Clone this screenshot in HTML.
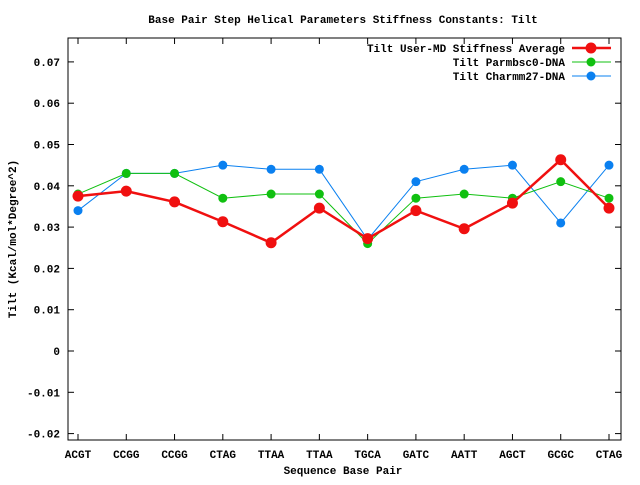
<!DOCTYPE html>
<html><head><meta charset="utf-8"><style>
body{margin:0;background:#fff}
svg text{font-family:"Liberation Mono","DejaVu Sans Mono",monospace;font-size:11px;font-weight:bold;fill:#000}
</style></head><body>
<svg id="chart" width="640" height="480" xmlns="http://www.w3.org/2000/svg">
<text x="343" y="23" text-anchor="middle">Base Pair Step Helical Parameters Stiffness Constants: Tilt</text>
<rect x="68" y="38" width="553" height="402" fill="none" stroke="#000" stroke-width="1"/>
<g id="axes"></g>
<g id="series"></g>
<text x="343" y="474" text-anchor="middle">Sequence Base Pair</text>
<text transform="translate(16,239) rotate(-90)" text-anchor="middle">Tilt (Kcal/mol*Degree^2)</text>
<g id="legend"></g>
</svg>
<script>
const categories=["ACGT","CCGG","CCGG","CTAG","TTAA","TTAA","TGCA","GATC","AATT","AGCT","GCGC","CTAG"];
const userMD=[0.0375,0.0387,0.0361,0.0313,0.0262,0.0346,0.0272,0.0340,0.0296,0.0358,0.0463,0.0346];
const parmbsc0=[0.038,0.043,0.043,0.037,0.038,0.038,0.026,0.037,0.038,0.037,0.041,0.037];
const charmm27=[0.034,0.043,0.043,0.045,0.044,0.044,0.027,0.041,0.044,0.045,0.031,0.045];
const yTicks=[-0.02,-0.01,0,0.01,0.02,0.03,0.04,0.05,0.06,0.07];
const yTickLabels=["-0.02","-0.01","0","0.01","0.02","0.03","0.04","0.05","0.06","0.07"];
const NS="http://www.w3.org/2000/svg";
function xScale(i){return 78+i*(609-78)/(categories.length-1);}
function yScale(v){return 351-v*4130;}
function mk(t,a,p){const e=document.createElementNS(NS,t);for(const k in a)e.setAttribute(k,a[k]);p.appendChild(e);return e;}
const ax=document.getElementById('axes');
yTicks.forEach((v,i)=>{const y=yScale(v);
 const l=mk('line',{x1:68,x2:74,y1:y,y2:y,stroke:'#000'},ax);
 
 
 const l2=mk('line',{x1:615,x2:621,y1:y,y2:y,stroke:'#000'},ax);
 
 
 const t=mk('text',{x:60,y:y+4,'text-anchor':'end'},ax);t.textContent=yTickLabels[i];
 
 
});
categories.forEach((c,i)=>{const x=xScale(i);
 const l=mk('line',{x1:x,x2:x,y1:440,y2:434,stroke:'#000'},ax);
 
 
 const l2=mk('line',{x1:x,x2:x,y1:38,y2:44,stroke:'#000'},ax);
 
 
 const t=mk('text',{x:x,y:458,'text-anchor':'middle'},ax);t.textContent=c;
 
 
});
const series=[
 {name:"Tilt Charmm27-DNA",data:charmm27,color:"#0a80f0",w:1,r:4.5,key:"charmm27"},
 {name:"Tilt Parmbsc0-DNA",data:parmbsc0,color:"#10c010",w:1,r:4.5,key:"parmbsc0"},
 {name:"Tilt User-MD Stiffness Average",data:userMD,color:"#f01010",w:2.5,r:5.5,key:"user-md"}
];
const sg=document.getElementById('series');
series.forEach(s=>{
 const g=mk('g',{},sg);
 
 
 const p=mk('polyline',{points:s.data.map((v,i)=>xScale(i)+','+yScale(v)).join(' '),fill:'none',stroke:s.color,'stroke-width':s.w},g);
 
 
 s.data.forEach((v,i)=>{const c=mk('circle',{cx:xScale(i),cy:yScale(v),r:s.r,fill:s.color},g);
  
  });
});
const lg=document.getElementById('legend');
[series[2],series[1],series[0]].forEach((s,i)=>{const y=48+i*14;
 const g=mk('g',{},lg);
 
 
 const t=mk('text',{x:565,y:y+4,'text-anchor':'end'},g);t.textContent=s.name;
 mk('line',{x1:572,x2:611,y1:y,y2:y,stroke:s.color,'stroke-width':s.w},g);
 mk('circle',{cx:591,cy:y,r:s.r,fill:s.color},g);
});
</script>
</body></html>
